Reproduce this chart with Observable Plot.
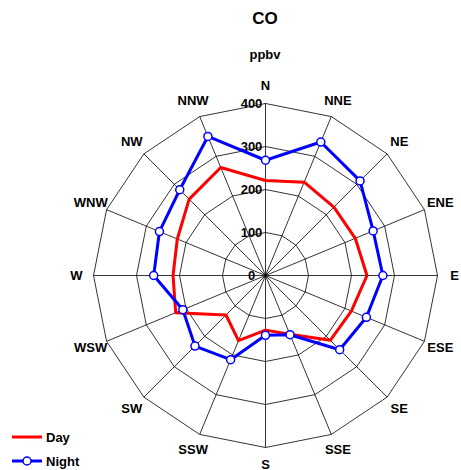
<!DOCTYPE html>
<html><head><meta charset="utf-8">
<script src="https://cdn.jsdelivr.net/npm/d3@7"></script>
<script src="https://cdn.jsdelivr.net/npm/@observablehq/plot@0.6"></script>
<style>
body{margin:0;background:#fff;font-family:"Liberation Sans",Arial,sans-serif;}
#wrap{position:relative;width:461px;height:470px;}
.t{position:absolute;font-weight:bold;color:#000;}
</style></head><body>
<div id="wrap">
<div class="t" style="left:0;width:530px;top:9px;text-align:center;font-size:17px;">CO</div>
<div class="t" style="left:0;width:530px;top:47px;text-align:center;font-size:13px;">ppbv</div>
<div id="chart"></div>
<svg style="position:absolute;left:0;top:425px" width="120" height="45">
<line x1="12" x2="42" y1="12" y2="12" stroke="red" stroke-width="3"/>
<text x="46" y="17" font-weight="bold" font-size="13" font-family="Liberation Sans">Day</text>
<line x1="12" x2="42" y1="36" y2="36" stroke="blue" stroke-width="3"/>
<circle cx="27" cy="36" r="4" fill="white" stroke="blue" stroke-width="1.5"/>
<text x="46" y="41" font-weight="bold" font-size="13" font-family="Liberation Sans">Night</text>
</svg>
</div>
<script>
const directions = ["N","NNE","NE","ENE","E","ESE","SE","SSE","S","SSW","SW","WSW","W","WNW","NW","NNW"];
const dayValues = [221,235,225,226,236,216,213,148,127,164,130,226,215,222,251,272];
const nightValues = [268,336,311,271,273,254,244,149,139,212,232,208,260,267,282,350];
const ringTicks = [0,100,200,300,400];

const ang = i => i * Math.PI / 8;
const pts = vals => vals.map((v,i)=>({x: v*Math.sin(ang(i)), y: v*Math.cos(ang(i))})).concat([{x:0,y:vals[0]}]);
const rings = ringTicks.slice(1).flatMap(r => directions.concat([directions[0]]).map((d,i)=>({r, x:r*Math.sin(ang(i)), y:r*Math.cos(ang(i))})));
const spokes = directions.map((d,i)=>({x2:400*Math.sin(ang(i)), y2:400*Math.cos(ang(i))}));
const labels = directions.map((d,i)=>({d, x:440*Math.sin(ang(i)), y:440*Math.cos(ang(i))}));
const ringLabels = ringTicks.map(r=>({r, x:0, y:r}));
const dayPts = pts(dayValues), nightPts = pts(nightValues);

const plot = Plot.plot({
  width:461, height:470,
  marginLeft:93, marginRight:24, marginTop:103, marginBottom:23,
  x:{domain:[-400,400], axis:null}, y:{domain:[-400,400], axis:null},
  style:{fontFamily:"Liberation Sans, Arial, sans-serif"},
  marks:[
    Plot.line(rings,{x:"x",y:"y",z:"r",stroke:"black",strokeWidth:0.8}),
    Plot.link(spokes,{x1:0,y1:0,x2:"x2",y2:"y2",stroke:"black",strokeWidth:0.8}),
    Plot.text(ringLabels,{x:"x",y:"y",text:d=>String(d.r),dx:-14,fontSize:13,fontWeight:"bold",fill:"black"}),
    Plot.line(dayPts,{x:"x",y:"y",stroke:"red",strokeWidth:3}),
    Plot.line(nightPts,{x:"x",y:"y",stroke:"blue",strokeWidth:3}),
    Plot.dot(nightPts.slice(0,16),{x:"x",y:"y",r:4,fill:"white",stroke:"blue",strokeWidth:1.5}),
    Plot.text(labels,{x:"x",y:"y",text:"d",fontSize:13,fontWeight:"bold",fill:"black"})
  ]
});
plot.style.position="absolute"; plot.style.left="0"; plot.style.top="0";
document.getElementById("chart").appendChild(plot);
</script>
</body></html>
